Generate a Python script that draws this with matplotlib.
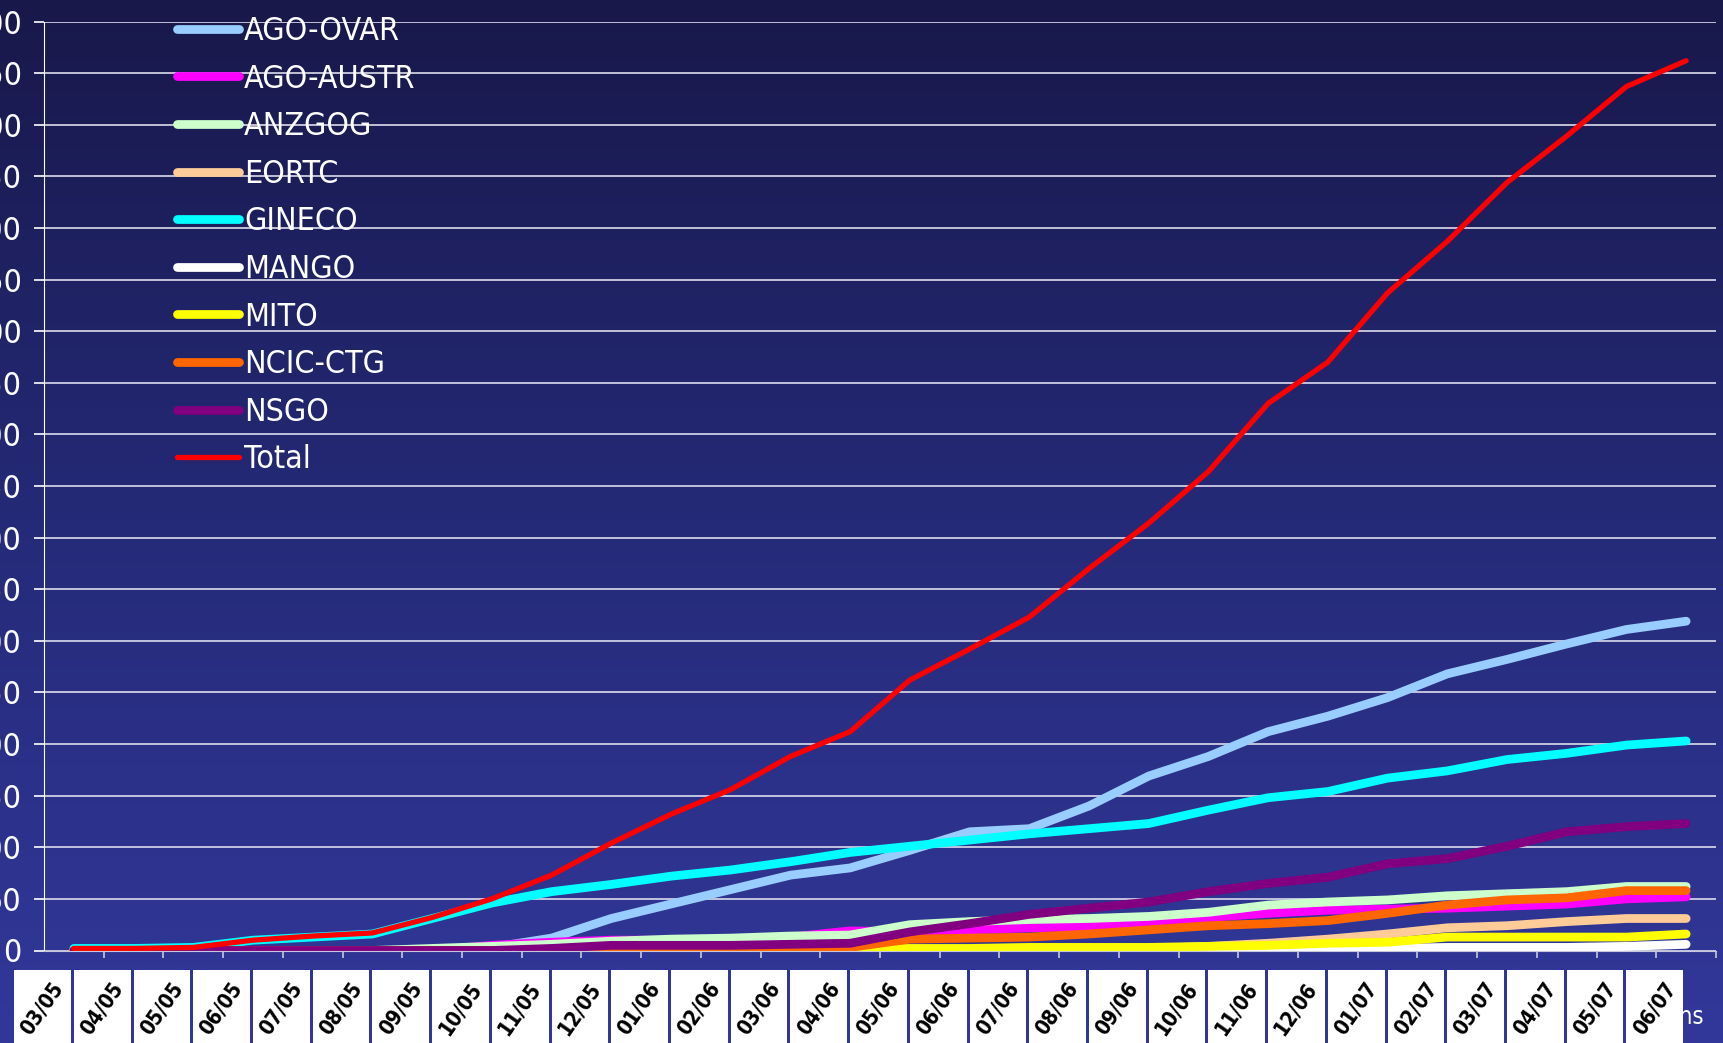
import numpy as np
import matplotlib.pyplot as plt
from matplotlib import font_manager
from matplotlib.patches import Rectangle
from matplotlib.colors import LinearSegmentedColormap

# the chart uses a narrow sans face; take a condensed one if there is any
fonts = font_manager.fontManager.ttflist
names = {f.name for f in fonts}
narrow = None
for cand in ['Liberation Sans Narrow', 'DejaVu Sans Condensed']:
    if cand in names:
        narrow = cand
        break
if narrow is None and any(f.name == 'DejaVu Sans' and f.stretch == 'condensed' for f in fonts):
    plt.rcParams['font.stretch'] = 'condensed'
    narrow = 'DejaVu Sans'
if narrow is None:
    plt.rcParams['font.family'] = ['Liberation Sans', 'DejaVu Sans']
    leg_size, tick_size = 22, 21
else:
    plt.rcParams['font.family'] = [narrow, 'DejaVu Sans']
    leg_size, tick_size = 23, 23

months = ['03/05', '04/05', '05/05', '06/05', '07/05', '08/05', '09/05', '10/05',
          '11/05', '12/05', '01/06', '02/06', '03/06', '04/06', '05/06', '06/06',
          '07/06', '08/06', '09/06', '10/06', '11/06', '12/06', '01/07', '02/07',
          '03/07', '04/07', '05/07', '06/07']

ago_ovar = [0, 0, 0, 0, 0, 0, 0, 3, 12, 31, 45, 59, 73, 80, 97, 115, 118, 140,
            169, 188, 212, 227, 245, 268, 282, 297, 311, 319]
ago_austr = [0, 0, 0, 0, 0, 0, 0, 5, 8, 10, 10, 11, 13, 19, 18, 20, 22, 23,
             26, 32, 36, 39, 40, 41, 43, 45, 50, 52]
anzgog = [0, 0, 0, 0, 0, 0, 2, 4, 6, 9, 11, 12, 14, 15, 25, 28, 30, 31,
          33, 37, 44, 47, 49, 53, 55, 57, 62, 62]
eortc = [0, 0, 0, 0, 0, 0, 0, 0, 0, 0, 0, 0, 0, 0, 0, 0, 0, 0,
         2, 4, 7, 11, 16, 22, 24, 28, 31, 31]
gineco = [2, 2, 3, 10, 13, 16, 31, 46, 57, 64, 72, 78, 86, 95, 101, 107, 113, 118,
          123, 136, 148, 154, 167, 174, 185, 191, 199, 203]
mango = [0, 0, 0, 0, 0, 0, 0, 0, 0, 0, 0, 0, 0, 0, 0, 0, 0, 0,
         0, 0, 1, 2, 2, 3, 3, 3, 4, 6]
mito = [0, 0, 0, 0, 0, 0, 0, 0, 0, 0, 0, 0, 1, 1, 2, 2, 3, 3,
        3, 4, 5, 7, 8, 13, 13, 13, 13, 16]
ncic = [0, 0, 0, 0, 0, 0, 0, 0, 0, 0, 0, 0, 0, 3, 11, 12, 13, 16,
        20, 24, 26, 29, 36, 44, 49, 51, 58, 58]
nsgo = [0, 0, 0, 0, 0, 0, 0, 0, 2, 5, 5, 5, 6, 7, 18, 26, 35, 41,
        47, 57, 65, 71, 84, 89, 101, 115, 120, 123]
total = [2, 2, 3, 10, 14, 17, 32, 50, 73, 104, 132, 156, 188, 212, 262, 292, 323, 370,
         414, 464, 530, 570, 637, 687, 744, 789, 837, 862]

series = [
    ('AGO-OVAR', ago_ovar, '#99ccff', 6.3),
    ('AGO-AUSTR', ago_austr, '#ff00ff', 6.3),
    ('ANZGOG', anzgog, '#ccffcc', 6.3),
    ('EORTC', eortc, '#ffcc99', 6.3),
    ('GINECO', gineco, '#00ffff', 6.3),
    ('MANGO', mango, '#ffffff', 6.3),
    ('MITO', mito, '#ffff00', 6.3),
    ('NCIC-CTG', ncic, '#ff6600', 6.3),
    ('NSGO', nsgo, '#800080', 6.3),
    ('Total', total, '#ff0000', 3.8),
]

fig = plt.figure(figsize=(17.23, 10.43), dpi=100)

# background gradient
bg = fig.add_axes([0, 0, 1, 1], zorder=-2)
grad = np.linspace(0, 1, 256).reshape(-1, 1)
cmap = LinearSegmentedColormap.from_list('bg', ['#18184a', '#252a78', '#32389a'])
bg.imshow(grad, aspect='auto', cmap=cmap, extent=[0, 1, 0, 1], origin='upper')
bg.axis('off')

ax = fig.add_axes([44 / 1723, 1 - 950.5 / 1043, 1672 / 1723, 929 / 1043])
ax.patch.set_alpha(0)

x = np.arange(len(months))
for name, vals, color, lw in series:
    ax.plot(x, vals, color=color, lw=lw, label=name,
            solid_capstyle='round', solid_joinstyle='round')

ax.set_xlim(-0.5, len(months) - 0.5)
ax.set_ylim(0, 900)
ax.set_yticks(range(0, 901, 50))
ax.yaxis.grid(True, color='#dcdcec', lw=1.2)
ax.set_axisbelow(True)
ax.set_xticks(np.arange(0.5, len(months), 1))
ax.set_xticklabels([])
ax.tick_params(axis='x', length=5, color='#c8c8dc', width=1.2)
ax.tick_params(axis='y', length=7, color='white', width=1.2,
               labelcolor='white', labelsize=tick_size, pad=9)
for s in ['top', 'right']:
    ax.spines[s].set_visible(False)
ax.spines['left'].set_color('white')
ax.spines['bottom'].set_color('#c8c8dc')

# "Months" title, mostly hidden behind the last label box
fig.text(1704 / 1723, 1 - 1017 / 1043, 'Months', ha='right', va='center',
         color='white', fontsize=17, zorder=-1)

# month labels in white boxes
trans = ax.get_xaxis_transform()
for i, m in enumerate(months):
    ax.add_patch(Rectangle((i - 1.0, -0.2), 0.95, 0.2 - 0.021, transform=trans,
                           clip_on=False, facecolor='white', edgecolor='none', zorder=5))
    ax.text(i - 0.53, -0.062, m, rotation=55, ha='center', va='center',
            transform=trans, fontsize=15, fontweight='bold', color='black',
            clip_on=False, zorder=6)

leg = ax.legend(loc='upper left', bbox_to_anchor=(0.0795, 1.006), frameon=False,
                fontsize=leg_size, handlelength=1.95, handletextpad=0.15,
                labelspacing=0.52, borderpad=0, borderaxespad=0)
for t in leg.get_texts():
    t.set_color('white')

fig.savefig('out.png', dpi=100)
